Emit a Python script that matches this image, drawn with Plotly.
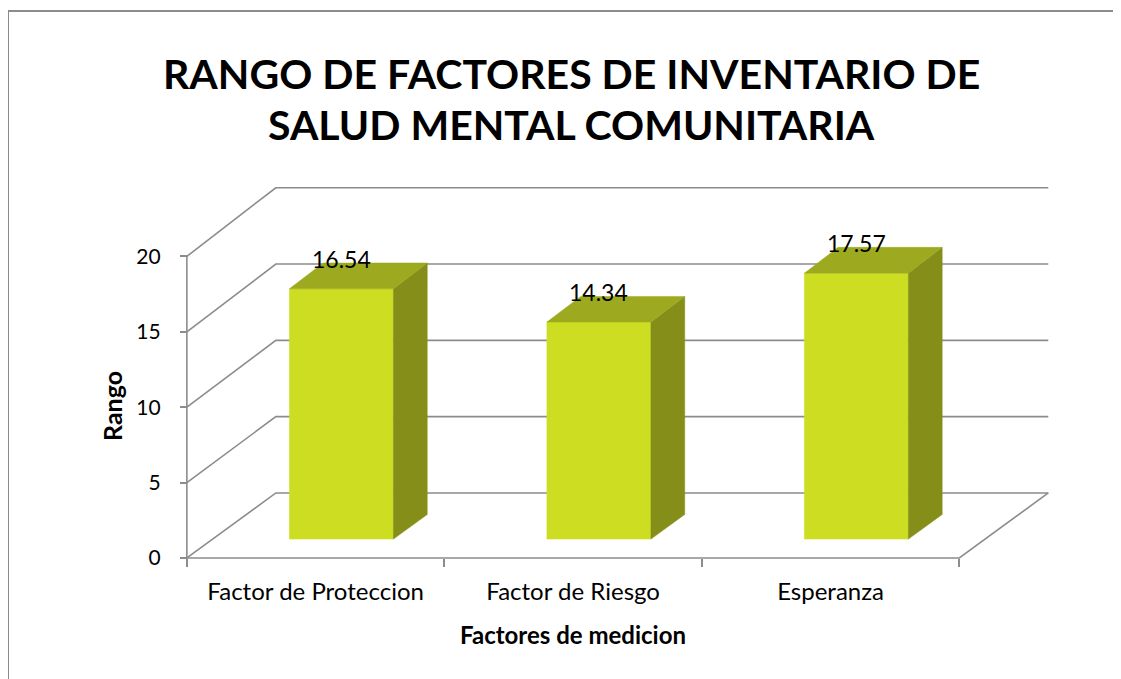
import plotly.graph_objects as go

# ---- data ----
categories = ["Factor de Proteccion", "Factor de Riesgo", "Esperanza"]
values = [16.54, 14.34, 17.57]
y_ticks = [0, 5, 10, 15, 20]
title_lines = ["RANGO DE FACTORES DE INVENTARIO DE", "SALUD MENTAL COMUNITARIA"]
x_title = "Factores de medicion"
y_title = "Rango"

# ---- 3D projection parameters (axis units) ----
DX = 0.3456      # full depth offset along x (category units)
DY = 4.31        # full depth offset along y (value units)
PERS = 0.012     # slight perspective growth of vertical scale with depth
D0, D1 = 0.29, 0.67   # bar depth start / end (fraction of depth)
BW = 0.404       # bar width (category units)

XMIN, XMAX = -0.05, 3.36
YMIN, YMAX = -0.4, 24.6

FONT = "Lato"
GRID = "#8C8C8C"
FRONT = "#CDDE22"
TOP = "#9DAA1F"
SIDE = "#848E18"


def proj(x, v, d):
    """Oblique projection of (x, value, depth) into axis coordinates."""
    return x + d * DX, v * (1 + PERS * d) + d * DY


fig = go.Figure()


def line(pts):
    xs = [p[0] for p in pts]
    ys = [p[1] for p in pts]
    fig.add_trace(go.Scatter(x=xs, y=ys, mode="lines",
                             line=dict(color=GRID, width=1.6),
                             hoverinfo="skip", showlegend=False))


ncat = len(categories)
ymax_tick = max(y_ticks)
# side-wall diagonals and back-wall gridlines
for v in y_ticks:
    line([proj(0, v, 0), proj(0, v, 1), proj(ncat, v, 1)])
# front axis line
line([proj(0, 0, 0), proj(0, ymax_tick, 0)])
# floor front edge and right edge
line([proj(0, 0, 0), proj(ncat, 0, 0), proj(ncat, 0, 1)])


def poly(pts, color):
    xs = [p[0] for p in pts] + [pts[0][0]]
    ys = [p[1] for p in pts] + [pts[0][1]]
    fig.add_trace(go.Scatter(x=xs, y=ys, mode="lines",
                             fill="toself", fillcolor=color,
                             line=dict(color=color, width=0.5),
                             hoverinfo="skip", showlegend=False))


for i, v in enumerate(values):
    c = i + 0.5
    xl, xr = c - BW / 2, c + BW / 2
    poly([proj(xl, 0, D0), proj(xr, 0, D0), proj(xr, v, D0), proj(xl, v, D0)], FRONT)
    poly([proj(xr, 0, D0), proj(xr, 0, D1), proj(xr, v, D1), proj(xr, v, D0)], SIDE)
    poly([proj(xl, v, D0), proj(xr, v, D0), proj(xr, v, D1), proj(xl, v, D1)], TOP)
    lx = proj(c, v, D0)[0]
    ly = proj(c, v, D1)[1]
    fig.add_annotation(x=lx, y=ly, text=f"{v:.2f}", showarrow=False,
                       xanchor="center", yanchor="middle", yshift=4,
                       font=dict(family=FONT, size=23, color="black"))

W, H = 1113, 671
OFF = 7  # page offset of the figure inside the browser window
ML, MT = 166, 179
PW, PH = 878, 377
MR, MB = W - ML - PW, H - MT - PH


def px(x):
    return (x - OFF - ML) / PW


def py(y):
    return (MT + PH - (y - OFF)) / PH


# title lines
fig.add_annotation(x=px(570), y=py(72), xref="paper", yref="paper",
                   text=f"<b>{title_lines[0]}</b>", showarrow=False,
                   xanchor="center", yanchor="middle",
                   font=dict(family=FONT, size=41, color="black"))
fig.add_annotation(x=px(570), y=py(123), xref="paper", yref="paper",
                   text=f"<b>{title_lines[1]}</b>", showarrow=False,
                   xanchor="center", yanchor="middle",
                   font=dict(family=FONT, size=41, color="black"))
# axis titles
fig.add_annotation(x=px(572), y=py(633), xref="paper", yref="paper",
                   text=f"<b>{x_title}</b>", showarrow=False,
                   xanchor="center", yanchor="middle",
                   font=dict(family=FONT, size=24, color="black"))
fig.add_annotation(x=px(111), y=py(405), xref="paper", yref="paper",
                   text=f"<b>{y_title}</b>", showarrow=False, textangle=-90,
                   xanchor="center", yanchor="middle",
                   font=dict(family=FONT, size=25, color="black"))

# chart border: only left and top edges are inside the picture
bx0, bx1 = px(7), px(1200)
by0, by1 = py(10), py(760)
fig.add_shape(type="path", xref="paper", yref="paper",
              path=f"M {bx0},{by1} L {bx0},{by0} L {bx1},{by0}",
              line=dict(color="#8C8C8C", width=2))

fig.update_layout(
    width=W, height=H,
    margin=dict(l=ML, r=MR, t=MT, b=MB),
    paper_bgcolor="white", plot_bgcolor="white",
    showlegend=False,
    xaxis=dict(range=[XMIN, XMAX], showgrid=False, zeroline=False, showline=False,
               anchor="free", position=(0 - YMIN) / (YMAX - YMIN),
               tickmode="array", tickvals=[i + 0.5 for i in range(ncat)],
               ticktext=categories, ticks="", ticklabelstandoff=17,
               tickfont=dict(family=FONT, size=24, color="black"),
               minor=dict(tickmode="array", tickvals=list(range(ncat + 1)),
                          ticks="outside", ticklen=8, tickcolor=GRID, tickwidth=1.6,
                          showgrid=False),
               fixedrange=True),
    yaxis=dict(range=[YMIN, YMAX], showgrid=False, zeroline=False, showline=False,
               anchor="free", position=(0 - XMIN) / (XMAX - XMIN),
               tickmode="array", tickvals=y_ticks,
               ticks="outside", ticklen=7, tickcolor=GRID, tickwidth=1.6,
               ticklabelstandoff=15,
               tickfont=dict(family=FONT, size=21, color="black"),
               fixedrange=True),
)

fig.write_html("out.html")
